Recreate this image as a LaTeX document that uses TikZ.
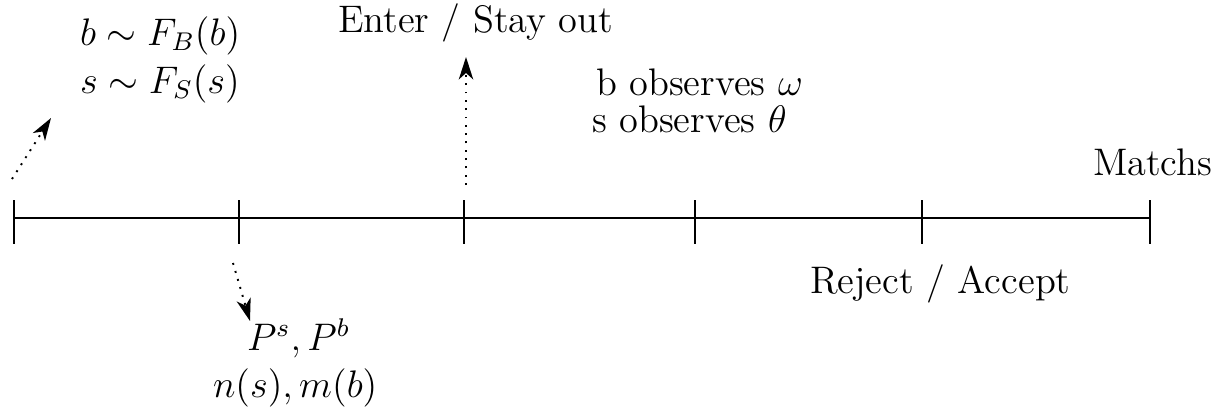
\documentclass[tikz,border=0pt,12pt]{standalone}
\usetikzlibrary{arrows.meta}
\begin{document}
\begin{tikzpicture}[x=0.3125pt,y=-0.3125pt,
  axis/.style={semithick},
  lbl/.style={inner sep=0pt,outer sep=0pt,anchor=base west},
  darrow/.style={semithick,dotted,-{Stealth[length=7pt,width=4.5pt,inset=2pt]}}]
\useasboundingbox (0,0) rectangle (1219,411);
% axis
\coordinate (t0) at (14,218);
\coordinate (t1) at (239,218);
\coordinate (t2) at (464,218);
\coordinate (t3) at (695,218);
\coordinate (t4) at (922,218);
\coordinate (t5) at (1150,218);
\draw[axis] (t0) -- (t5);
\foreach \t in {t0,t1,t2,t3,t4,t5}{
  \draw[axis] ([yshift=5.6pt]\t) -- ([yshift=-8pt]\t);
}
% labels
\node[lbl] (dist1) at (80,45) {$b \sim F_B(b)$};
\node[lbl] (dist2) at (80,93) {$s \sim F_S(s)$};
\node[lbl] (enter) at (338,32) {Enter / Stay out};
\node[lbl] (obs1) at (596,95) {b observes $\omega$};
\node[lbl] (obs2) at (592,132) {s observes $\theta$};
\node[lbl] (match) at (1093,175) {Matchs};
\node[lbl] (rej) at (810,293) {Reject / Accept};
\node[lbl] (prices) at (247,350) {$P^s, P^b$};
\node[lbl] (nm) at (213,397) {$n(s), m(b)$};
% arrows
\coordinate (a0s) at (12,179);
\coordinate (a0e) at (51,118);
\coordinate (a1s) at (233,263);
\coordinate (a1e) at (250,321);
\coordinate (a2s) at (466,185);
\coordinate (a2e) at (466,57);
\draw[darrow] (a0s) -- (a0e);
\draw[darrow] (a1s) -- (a1e);
\draw[darrow] (a2s) -- (a2e);
\end{tikzpicture}
\end{document}
